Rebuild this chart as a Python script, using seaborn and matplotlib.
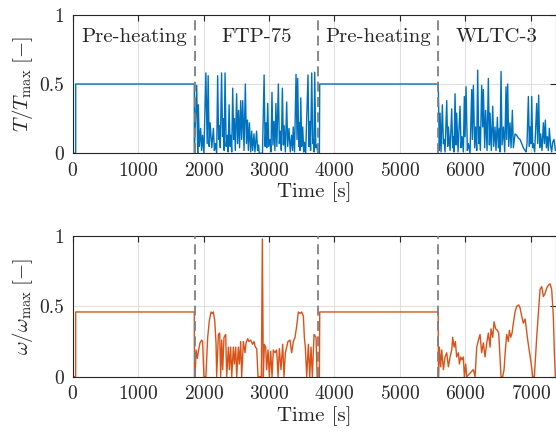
import matplotlib
matplotlib.use("Agg")
import matplotlib.pyplot as plt
import numpy as np
import pandas as pd
import seaborn as sns

# segment limits [s]
preheat1 = (45, 1858)
ftp_end = 3770
preheat2 = (3775, 5585)
wltc_end = 7376
boundaries = [1870, 3745, 5588]
segment_names = ["Pre-heating", "FTP-75", "Pre-heating", "WLTC-3"]
segment_centres = [935, 2808, 4667, 6485]

# plateau levels during pre-heating
torque_preheat = 0.5
speed_preheat = 0.46

# FTP-75 torque
ftp_t_time = [1858, 1895, 1910, 1920, 1935, 1955, 1970, 1985, 2005, 2035, 2055, 2070, 2085, 2100,
              2125, 2150, 2165, 2180, 2200, 2215, 2230, 2240, 2255, 2275, 2290, 2300, 2315, 2328,
              2345, 2360, 2375, 2390, 2405, 2415, 2430, 2445, 2460, 2470, 2485, 2505, 2520, 2535,
              2550, 2567, 2582, 2598, 2618, 2638, 2655, 2670, 2685, 2700, 2720, 2735, 2750, 2770,
              2785, 2810, 2825, 2840, 2850, 2900, 2925, 2940, 2955, 2965, 2980, 2995, 3015, 3030,
              3045, 3060, 3075, 3090, 3105, 3120, 3143, 3158, 3173, 3188, 3204, 3220, 3230, 3250,
              3270, 3285, 3305, 3325, 3345, 3360, 3370, 3390, 3413, 3428, 3438, 3455, 3465, 3475,
              3485, 3500, 3515, 3530, 3540, 3560, 3596, 3610, 3625, 3635, 3653, 3668, 3678, 3688,
              3698, 3715, 3730, 3745, 3770]
ftp_t_val = [0, 0.49, 0, 0.35, 0.05, 0.18, 0.02, 0.13, 0, 0.58, 0.07, 0.56, 0.05, 0.22,
             0.04, 0.18, 0.02, 0.07, 0, 0.56, 0.10, 0.20, 0.04, 0.58, 0.12, 0.25, 0.02, 0.58,
             0.05, 0.13, 0.01, 0.35, 0.05, 0.13, 0.01, 0.47, 0.10, 0.25, 0.02, 0.43, 0.07, 0.31,
             0.04, 0.38, 0.10, 0.38, 0.02, 0.50, 0.07, 0.24, 0.02, 0.22, 0.01, 0.16, 0.02, 0.14,
             0.01, 0.16, 0.02, 0.06, 0, 0, 0.565, 0.05, 0.22, 0.04, 0.36, 0.05, 0.10, 0.01,
             0.44, 0.06, 0.23, 0.02, 0.36, 0.05, 0.50, 0.07, 0.16, 0.02, 0.47, 0.06, 0.20, 0.01,
             0.37, 0.05, 0.18, 0.01, 0.13, 0.02, 0.19, 0.01, 0.57, 0.10, 0.54, 0.05, 0.22, 0.02,
             0.40, 0.05, 0.19, 0.01, 0.08, 0, 0.565, 0.05, 0.23, 0.02, 0.58, 0.07, 0.10, 0.01,
             0.585, 0.04, 0.06, 0, 0]

# WLTC-3 torque
wltc_t_time = [5585, 5588, 5603, 5614, 5629, 5649, 5665, 5675, 5690, 5716, 5731, 5741, 5767, 5792,
               5807, 5817, 5828, 5843, 5858, 5868, 5889, 5919, 5935, 5950, 5970, 5985, 5996, 6011,
               6031, 6047, 6072, 6098, 6108, 6123, 6143, 6159, 6174, 6189, 6205, 6215, 6230, 6250,
               6266, 6276, 6296, 6311, 6332, 6352, 6368, 6378, 6398, 6419, 6434, 6454, 6469, 6490,
               6505, 6520, 6530, 6546, 6561, 6582, 6602, 6622, 6632, 6648, 6663, 6683, 6699, 6719,
               6734, 6760, 6785, 6811, 6836, 6862, 6887, 6913, 6928, 6943, 6964, 6979, 6989, 7004,
               7015, 7030, 7040, 7060, 7091, 7106, 7121, 7137, 7152, 7172, 7193, 7208, 7223, 7239,
               7254, 7269, 7284, 7305, 7320, 7335, 7356, 7376]
wltc_t_val = [0.5, 0.46, 0.02, 0.29, 0.01, 0.35, 0.07, 0.10, 0.01, 0.38, 0.05, 0.19, 0.02, 0.32,
              0.04, 0.12, 0.01, 0.43, 0.06, 0.29, 0.01, 0.34, 0.04, 0.12, 0.01, 0.41, 0.12, 0.48,
              0.02, 0.07, 0, 0.46, 0.10, 0.49, 0.04, 0.19, 0.02, 0.60, 0.07, 0.19, 0.02, 0.49,
              0.19, 0.46, 0.04, 0.31, 0.02, 0.54, 0.06, 0.29, 0.02, 0.34, 0.05, 0.19, 0.02, 0.26,
              0.04, 0.18, 0.01, 0.59, 0.06, 0.19, 0.01, 0.48, 0.10, 0.50, 0.05, 0.22, 0.04, 0.31,
              0.04, 0.14, 0.13, 0.11, 0.10, 0.07, 0.04, 0.02, 0.01, 0.07, 0.41, 0.05, 0.19, 0.07,
              0.41, 0.04, 0.07, 0.01, 0.36, 0.07, 0.42, 0.04, 0.14, 0.02, 0.22, 0.07, 0.24, 0.04,
              0.12, 0.02, 0.18, 0.05, 0.01, 0.08, 0.10, 0.02]

# FTP-75 speed
ftp_w_time = [1858, 1860, 1870, 1885, 1905, 1920, 1945, 1970, 1985, 2005, 2035, 2063, 2088, 2114,
              2134, 2149, 2170, 2190, 2200, 2226, 2246, 2261, 2277, 2292, 2312, 2338, 2353, 2379,
              2394, 2414, 2430, 2455, 2470, 2491, 2506, 2531, 2547, 2567, 2582, 2608, 2633, 2649,
              2674, 2694, 2720, 2750, 2771, 2791, 2812, 2832, 2883, 2898, 2913, 2929, 2949, 2964,
              2985, 3005, 3026, 3046, 3066, 3092, 3117, 3138, 3158, 3183, 3209, 3229, 3250, 3270,
              3290, 3321, 3346, 3372, 3397, 3423, 3448, 3474, 3499, 3525, 3540, 3555, 3576, 3601,
              3622, 3642, 3662, 3688, 3718, 3735, 3770]
ftp_w_val = [0.46, 0, 0, 0.19, 0.13, 0.18, 0.24, 0.26, 0.25, 0, 0, 0.28, 0.40, 0.46,
             0.45, 0.46, 0.40, 0.24, 0, 0.30, 0.31, 0, 0.26, 0.05, 0.28, 0.30, 0, 0.21,
             0.05, 0.21, 0, 0.21, 0.09, 0.21, 0, 0.21, 0.09, 0.25, 0, 0.25, 0.17, 0.24,
             0.27, 0.25, 0.26, 0.23, 0.25, 0.21, 0.20, 0, 0, 0.98, 0, 0.23, 0.21, 0.05,
             0.19, 0, 0.18, 0, 0.19, 0.17, 0.19, 0, 0.20, 0.05, 0.23, 0, 0.17, 0.21,
             0.25, 0.26, 0.17, 0.25, 0.28, 0.36, 0.46, 0.45, 0.46, 0.43, 0.28, 0.21, 0, 0.23,
             0, 0.21, 0, 0.30, 0.28, 0, 0]

# WLTC-3 speed
wltc_w_time = [5585, 5590, 5603, 5624, 5639, 5665, 5690, 5716, 5741, 5767, 5792, 5807, 5828, 5848,
               5868, 5894, 5909, 5930, 5950, 5970, 5985, 6006, 6021, 6123, 6149, 6174, 6200, 6225,
               6250, 6276, 6301, 6327, 6352, 6378, 6393, 6419, 6439, 6464, 6490, 6510, 6530, 6546,
               6571, 6592, 6612, 6632, 6658, 6673, 6694, 6714, 6734, 6760, 6785, 6816, 6836, 6862,
               6887, 6913, 6928, 6948, 6969, 6989, 7015, 7030, 7055, 7076, 7091, 7106, 7121, 7142,
               7167, 7193, 7218, 7244, 7269, 7295, 7320, 7345, 7361, 7376]
wltc_w_val = [0.46, 0, 0.21, 0.07, 0.19, 0.05, 0.14, 0.17, 0.07, 0.14, 0.19, 0.28, 0.21, 0.25,
              0.14, 0.17, 0.09, 0.14, 0.12, 0.14, 0, 0.09, 0, 0.05, 0, 0.21, 0.26, 0.30,
              0.17, 0.24, 0.14, 0.24, 0.31, 0.21, 0.34, 0.28, 0.39, 0.34, 0.33, 0.31, 0.14, 0,
              0, 0.05, 0.19, 0.30, 0.25, 0.33, 0.28, 0.31, 0.38, 0.46, 0.50, 0.51, 0.49, 0.43,
              0.38, 0.41, 0.36, 0.28, 0.21, 0.15, 0.06, 0, 0, 0.17, 0.28, 0.38, 0.47, 0.62,
              0.64, 0.57, 0.59, 0.63, 0.65, 0.66, 0.62, 0.43, 0.17, 0]


def full_series(level, ftp_time, ftp_val, wltc_time, wltc_val):
    """Glue pre-heating plateaus and the two drive cycles together."""
    time = ([0, preheat1[0], preheat1[0], preheat1[1]] + ftp_time +
            [ftp_end, preheat2[0], preheat2[1]] + wltc_time)
    val = ([0, 0, level, level] + ftp_val +
           [0, level, level] + wltc_val)
    return pd.DataFrame({"time": time, "val": val})


torque = full_series(torque_preheat, ftp_t_time, ftp_t_val, wltc_t_time, wltc_t_val)
speed = full_series(speed_preheat, ftp_w_time, ftp_w_val, wltc_w_time, wltc_w_val)

sns.set_theme(style="white")
plt.rcParams["font.family"] = "cmr10"
plt.rcParams["mathtext.fontset"] = "cm"
plt.rcParams["axes.formatter.use_mathtext"] = True

fig = plt.figure(figsize=(5.56, 4.38), dpi=100)
ax1 = fig.add_axes([0.1308, 0.650, 0.8685, 0.3164])
ax2 = fig.add_axes([0.1308, 0.140, 0.8685, 0.3212])

sns.lineplot(data=torque, x="time", y="val", ax=ax1, color="#0072BD", lw=1.0,
             estimator=None, sort=False)
sns.lineplot(data=speed, x="time", y="val", ax=ax2, color="#D95319", lw=1.0,
             estimator=None, sort=False)

for ax, ylab in [(ax1, r"$T/T_{\max}\;[-]$"), (ax2, r"$\omega/\omega_{\max}\;[-]$")]:
    ax.set_xlim(0, 7380)
    ax.set_ylim(0, 1)
    ax.set_xticks([0, 1000, 2000, 3000, 4000, 5000, 6000, 7000])
    ax.set_yticks([0, 0.5, 1])
    ax.set_yticklabels(["0", "0.5", "1"])
    ax.grid(True, color="#dfdfdf", lw=0.8)
    ax.set_axisbelow(True)
    for b in boundaries:
        ax.axvline(b, color="#808080", lw=1.3, ls=(0, (5.5, 3)), zorder=3)
    for sp in ax.spines.values():
        sp.set_color("#262626")
        sp.set_linewidth(0.8)
    ax.tick_params(direction="in", length=4, width=0.8, labelsize=14,
                   top=True, right=True, colors="#262626", pad=6)
    ax.set_xlabel("Time [s]", fontsize=15, labelpad=2)
    ax.set_ylabel(ylab, fontsize=15, labelpad=3)

for name, c in zip(segment_names, segment_centres):
    ax1.text(c, 0.84, name, ha="center", va="center", fontsize=15, color="#262626")

fig.savefig("out.png", dpi=100)
